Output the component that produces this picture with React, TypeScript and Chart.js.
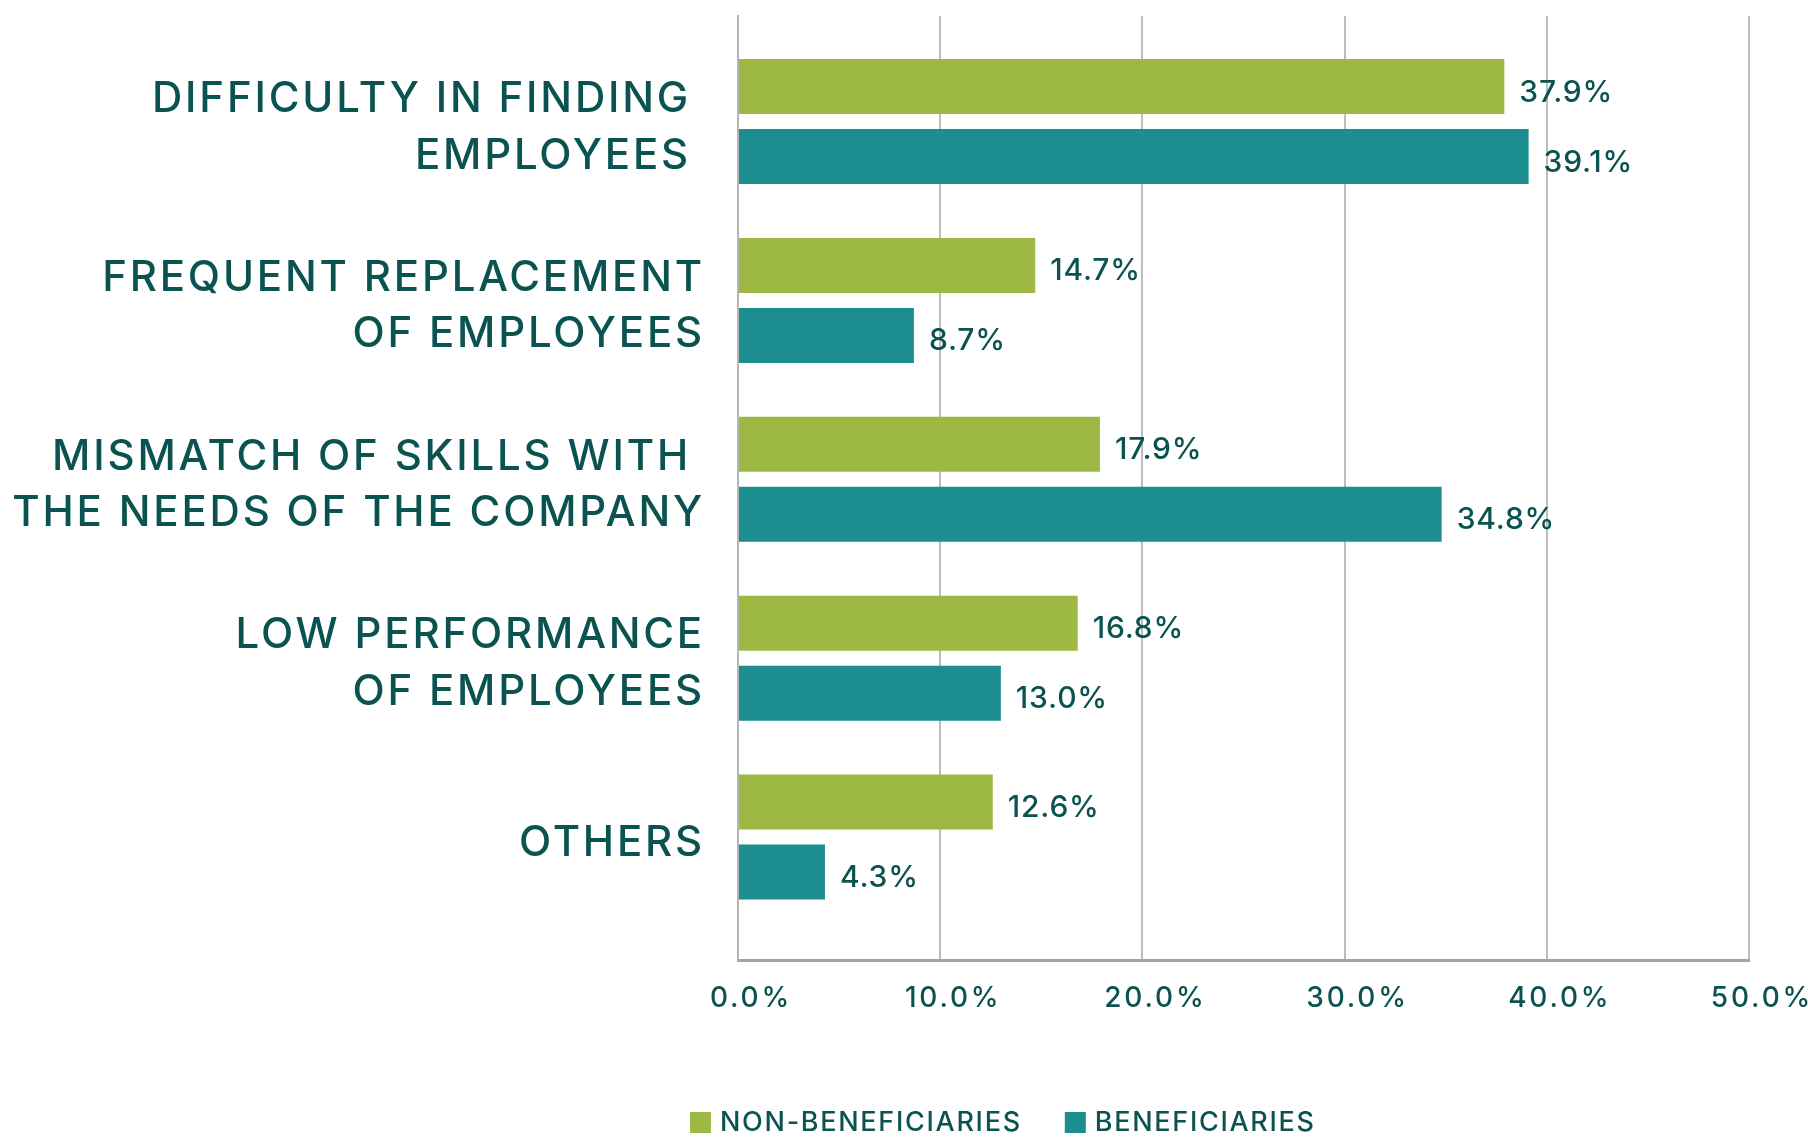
import React, { useEffect, useRef } from 'react';
import { Chart, registerables } from 'chart.js';

Chart.register(...registerables);

const categories: string[][] = [
  ['DIFFICULTY IN FINDING ', 'EMPLOYEES '],
  ['FREQUENT REPLACEMENT', 'OF EMPLOYEES'],
  ['MISMATCH OF SKILLS WITH ', 'THE NEEDS OF THE COMPANY'],
  ['LOW PERFORMANCE', 'OF EMPLOYEES'],
  ['OTHERS'],
];
const nonBeneficiaries = [37.9, 14.7, 17.9, 16.8, 12.6];
const beneficiaries = [39.1, 8.7, 34.8, 13.0, 4.3];
const seriesNames = ['NON-BENEFICIARIES', 'BENEFICIARIES'];
const seriesColors = ['#9db843', '#1c8e8f'];
const xMin = 0;
const xMax = 50;
const xStep = 10;

const TEXT = '#0b5351';
const FONT = 'Inter, "Noto Sans", sans-serif';

const spacing = {
  id: 'spacing',
  beforeDraw(chart: any) {
    chart.ctx.letterSpacing = '2.8px';
  },
  beforeDatasetsDraw(chart: any) {
    chart.ctx.letterSpacing = '0px';
  },
};

const valueLabels = {
  id: 'valueLabels',
  afterDatasetsDraw(chart: any) {
    const ctx = chart.ctx;
    ctx.save();
    ctx.letterSpacing = '0.8px';
    ctx.fillStyle = TEXT;
    ctx.font = `500 30px ${FONT}`;
    ctx.textAlign = 'left';
    ctx.textBaseline = 'middle';
    chart.data.datasets.forEach((ds: any, di: number) => {
      const meta = chart.getDatasetMeta(di);
      meta.data.forEach((el: any, i: number) => {
        const v = ds.data[i].x;
        ctx.fillText(v.toFixed(1) + '%', el.x + 15, el.y + 6);
      });
    });
    ctx.restore();
  },
};

const customLegend = {
  id: 'customLegend',
  afterDraw(chart: any) {
    const ctx = chart.ctx;
    ctx.save();
    ctx.letterSpacing = '1.7px';
    ctx.font = `500 27px ${FONT}`;
    ctx.textBaseline = 'middle';
    ctx.textAlign = 'left';
    let x = 690;
    const y = 1123;
    chart.data.datasets.forEach((ds: any) => {
      ctx.fillStyle = ds.backgroundColor;
      ctx.fillRect(x, y - 11, 21, 21);
      ctx.fillStyle = TEXT;
      ctx.fillText(ds.label, x + 30, y);
      x += 30 + ctx.measureText(ds.label).width + 43;
    });
    ctx.restore();
  },
};

export default function App() {
  const ref = useRef<HTMLCanvasElement>(null);
  useEffect(() => {
    if (!ref.current) return;
    const chart = new Chart(ref.current, {
      type: 'bar',
      data: {
        datasets: [
          {
            label: seriesNames[0],
            data: nonBeneficiaries.map((v, i) => ({ x: v, y: i })),
            backgroundColor: seriesColors[0],
          },
          {
            label: seriesNames[1],
            data: beneficiaries.map((v, i) => ({ x: v, y: i })),
            backgroundColor: seriesColors[1],
          },
        ],
      },
      options: {
        indexAxis: 'y',
        animation: false,
        responsive: false,
        maintainAspectRatio: false,
        categoryPercentage: 0.7825,
        barPercentage: 0.786,
        layout: { padding: { top: 16, right: 59, bottom: 0, left: 0 } },
        plugins: {
          legend: { display: false },
          tooltip: { enabled: false },
        },
        scales: {
          x: {
            type: 'linear',
            min: xMin,
            max: xMax,
            grid: { color: '#bdbdbd', lineWidth: 2, drawTicks: false },
            border: { display: true, color: '#a3a3a3', width: 3 },
            ticks: {
              stepSize: xStep,
              padding: 22,
              labelOffset: 13,
              color: TEXT,
              font: { family: FONT, size: 28, weight: 500 },
              callback: (v: any) => Number(v).toFixed(1) + '%',
            },
            afterFit: (s: any) => {
              s.height = 185;
              s.paddingLeft = 0;
              s.paddingRight = 0;
            },
          },
          y: {
            type: 'linear',
            reverse: true,
            min: -0.59,
            max: 4.687,
            offset: false,
            grid: { display: false, offset: false },
            border: { display: true, color: '#b5b5b5', width: 2 },
            ticks: {
              stepSize: 1,
              includeBounds: false,
              autoSkip: false,
              padding: 25,
              labelOffset: 6,
              color: TEXT,
              font: { family: FONT, size: 42, weight: 500, lineHeight: 1.35 },
              callback: (v: any) => (Number.isInteger(v) && categories[v] ? categories[v] : ''),
            },
            afterFit: (s: any) => {
              s.width = 738;
              s.paddingTop = 0;
              s.paddingBottom = 0;
            },
          },
        },
      },
      plugins: [spacing, valueLabels, customLegend],
    } as any);
    return () => chart.destroy();
  }, []);
  return (
    <div style={{ position: 'absolute', left: 0, top: 0, width: 1808, height: 1145, background: '#fff' }}>
      <canvas ref={ref} width={1808} height={1145} style={{ width: 1808, height: 1145, display: 'block' }} />
    </div>
  );
}
